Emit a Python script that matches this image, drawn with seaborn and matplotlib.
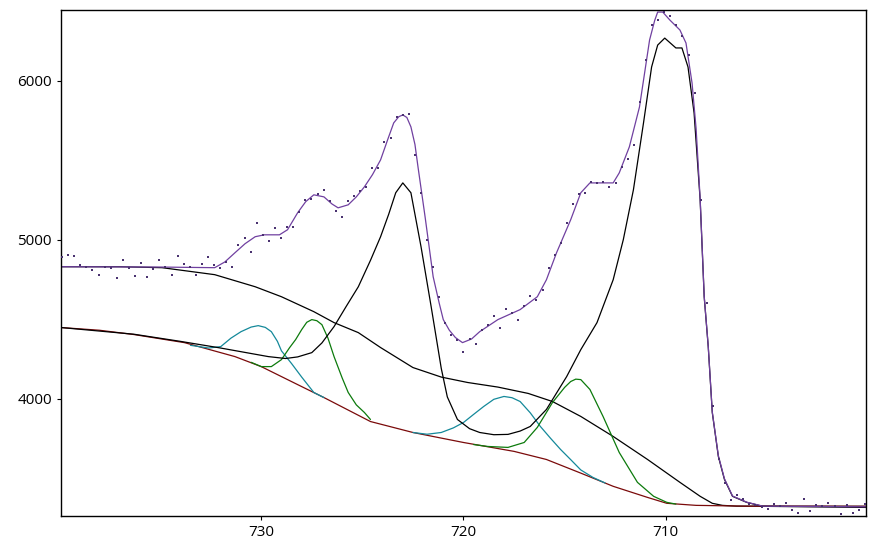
import numpy as np
import pandas as pd
import matplotlib
matplotlib.use("Agg")
import matplotlib.pyplot as plt
import seaborn as sns

# binding energy (eV) of the measured points, one every ~0.3 eV
BE_POINTS = np.linspace(739.85, 700.15, 133)
COUNTS = [
    4893, 4906, 4899, 4843, 4830, 4811, 4780, 4830, 4824, 4761,
    4874, 4824, 4774, 4855, 4767, 4818, 4874, 4830, 4780, 4899,
    4849, 4830, 4780, 4849, 4893, 4843, 4824, 4862, 4830, 4969,
    5013, 4925, 5107, 5031, 4994, 5075, 5013, 5082, 5082, 5176,
    5252, 5258, 5289, 5314, 5245, 5182, 5145, 5245, 5277, 5308,
    5333, 5453, 5453, 5616, 5641, 5774, 5786, 5792, 5535, 5296,
    5000, 4830, 4641, 4478, 4403, 4371, 4296, 4377, 4346, 4434,
    4465, 4522, 4447, 4566, 4541, 4497, 4585, 4648, 4623, 4686,
    4824, 4906, 4981, 5107, 5226, 5289, 5296, 5365, 5358, 5365,
    5333, 5358, 5459, 5509, 5597, 5868, 6132, 6352, 6384, 6434,
    6409, 6352, 6283, 6164, 5925, 5250, 4600, 3950, 3616, 3470,
    3362, 3392, 3365, 3338, 3327, 3316, 3302, 3333, 3320, 3340,
    3296, 3277, 3365, 3289, 3327, 3321, 3340, 3321, 3270, 3327,
    3277, 3296, 3333,
]

# envelope (sum of fit)
ENV_X = [739.9, 735.0, 732.3, 731.8, 731.3, 730.8, 730.3, 729.85, 729.1, 728.7,
         728.2, 727.8, 727.4, 726.9, 726.5, 726.2, 725.7, 725.3, 724.9, 724.5,
         724.1, 723.75, 723.45, 723.2, 723.0, 722.8, 722.6, 722.4, 722.25, 721.9,
         721.5, 721.2, 721.0, 720.7, 720.4, 720.05, 719.6, 719.2, 718.3, 717.2,
         716.35, 715.9, 715.4, 714.7, 714.2, 713.75, 713.1, 712.6, 712.3, 711.8,
         711.3, 710.8, 710.55, 710.4, 710.15, 709.8, 709.3, 709.0, 708.7, 708.5,
         708.3, 708.1, 707.9, 707.7, 707.4, 707.1, 706.7, 706.0, 705.2, 700.1]
ENV_Y = [4830, 4828, 4824, 4860, 4918, 4975, 5019, 5031, 5031, 5063,
         5170, 5240, 5283, 5270, 5225, 5201, 5220, 5270, 5333, 5410,
         5503, 5630, 5736, 5775, 5786, 5770, 5711, 5600, 5459, 5145,
         4767, 4600, 4497, 4430, 4384, 4352, 4375, 4421, 4497, 4560,
         4641, 4748, 4918, 5126, 5296, 5358, 5358, 5358, 5421, 5585,
         5836, 6258, 6380, 6434, 6434, 6384, 6321, 6239, 5987, 5700,
         5260, 4645, 4330, 3915, 3640, 3495, 3386, 3347, 3322, 3318]

# Shirley background
BG_X = [739.9, 738.0, 736.3, 733.8, 731.3, 730.0, 729.0, 728.0, 726.9, 724.6,
        722.5, 720.0, 717.5, 715.9, 714.2, 712.6, 710.9, 709.95, 708.5, 706.0, 700.1]
BG_Y = [4447, 4430, 4403, 4352, 4264, 4201, 4138, 4075, 4006, 3855,
        3786, 3723, 3667, 3616, 3530, 3447, 3377, 3340, 3327, 3322, 3321]

# main 2p3/2 + 2p1/2 component
MAIN_X = [739.9, 736.3, 734.0, 732.1, 729.65, 728.8, 728.2, 727.5, 727.0, 726.4,
          725.8, 725.2, 724.6, 724.1, 723.7, 723.35, 723.0, 722.6, 722.1, 721.6,
          721.1, 720.8, 720.3, 719.7, 719.2, 718.5, 717.8, 717.2, 716.7, 715.9,
          714.9, 714.2, 713.4, 712.6, 712.1, 711.6, 711.1, 710.7, 710.4, 710.05,
          709.5, 709.2, 708.9, 708.6, 708.3, 708.1, 707.9, 707.7, 707.4, 707.1,
          706.7, 706.0, 705.2, 700.1]
MAIN_Y = [4447, 4405, 4360, 4320, 4264, 4252, 4262, 4289, 4350, 4453,
          4580, 4704, 4870, 5019, 5160, 5296, 5358, 5296, 4956, 4579,
          4190, 4010, 3868, 3810, 3786, 3772, 3774, 3795, 3824, 3931,
          4138, 4308, 4478, 4748, 5000, 5314, 5736, 6088, 6226, 6270,
          6208, 6208, 6088, 5799, 5252, 4641, 4327, 3912, 3635, 3491,
          3384, 3346, 3321, 3314]

# broad component
BROAD_X = [739.9, 737.0, 734.9, 732.3, 730.3, 729.0, 727.4, 726.4, 725.2, 724.1,
           722.5, 721.1, 719.8, 718.3, 716.8, 715.6, 714.2, 712.6, 710.9, 709.3,
           708.3, 707.7, 707.2, 706.5, 700.1]
BROAD_Y = [4830, 4830, 4824, 4780, 4704, 4641, 4547, 4478, 4415, 4321,
           4195, 4135, 4101, 4072, 4032, 3981, 3887, 3761, 3616, 3472,
           3384, 3340, 3327, 3322, 3321]

# satellite peaks (cyan)
SAT1_X = [733.5, 732.6, 732.0, 731.5, 731.0, 730.5, 730.15, 729.8, 729.5, 729.2,
          729.0, 728.5, 728.0, 727.4, 726.9]
SAT1_Y = [4335, 4318, 4327, 4380, 4421, 4450, 4459, 4448, 4421, 4360,
          4300, 4220, 4135, 4038, 4006]
SAT2_X = [722.5, 721.8, 721.1, 720.5, 720.0, 719.5, 719.0, 718.5, 718.0, 717.6,
          717.2, 716.7, 716.2, 715.7, 715.2, 714.7, 714.2, 713.6, 713.0]
SAT2_Y = [3786, 3775, 3786, 3815, 3849, 3900, 3950, 3995, 4013, 4005,
          3981, 3910, 3824, 3750, 3679, 3615, 3550, 3503, 3468]

# multiplet peaks (green)
MULT1_X = [730.5, 730.0, 729.5, 729.0, 728.6, 728.3, 728.0, 727.75, 727.5, 727.25,
           727.0, 726.7, 726.4, 726.0, 725.7, 725.3, 724.9, 724.6]
MULT1_Y = [4228, 4201, 4201, 4245, 4320, 4371, 4434, 4480, 4497, 4490,
           4465, 4380, 4264, 4130, 4038, 3960, 3912, 3868]
MULT2_X = [719.5, 718.8, 717.8, 717.0, 716.35, 715.6, 715.0, 714.7, 714.45, 714.2,
           713.75, 713.1, 712.3, 711.4, 710.6, 709.95, 709.5]
MULT2_Y = [3710, 3698, 3692, 3723, 3818, 3975, 4070, 4107, 4122, 4119,
           4057, 3887, 3660, 3472, 3384, 3346, 3335]

sns.set_style("ticks")
plt.rcParams["font.family"] = ["Open Sans", "DejaVu Sans"]

fig = plt.figure(figsize=(8.76, 5.5), dpi=100)
ax = fig.add_axes([61 / 876, 1 - 516 / 550, 805 / 876, 506 / 550])

curves = [
    (BROAD_X, BROAD_Y, "black"),
    (BG_X, BG_Y, "#7a0a0a"),
    (SAT1_X, SAT1_Y, "#14899a"),
    (SAT2_X, SAT2_Y, "#14899a"),
    (MULT1_X, MULT1_Y, "#0c7a0c"),
    (MULT2_X, MULT2_Y, "#0c7a0c"),
    (MAIN_X, MAIN_Y, "black"),
    (ENV_X, ENV_Y, "#7040a0"),
]
for xs, ys, col in curves:
    df = pd.DataFrame({"be": xs, "cps": ys})
    sns.lineplot(data=df, x="be", y="cps", color=col, lw=0.9, sort=False,
                 estimator=None, ax=ax)

pts = pd.DataFrame({"be": BE_POINTS, "cps": COUNTS})
sns.scatterplot(data=pts, x="be", y="cps", color="#4a3270", marker="s", s=4,
                linewidth=0, ax=ax, zorder=5)

ax.set_xlim(739.9, 700.1)
ax.set_ylim(3260, 6447)
ax.set_xticks([730, 720, 710])
ax.set_yticks([4000, 5000, 6000])
ax.set_xlabel("")
ax.set_ylabel("")
ax.tick_params(axis="both", labelsize=11, length=3, width=0.8,
               color="black", labelcolor="black")
for sp in ax.spines.values():
    sp.set_linewidth(1.0)
    sp.set_color("black")

plt.savefig("out.png", dpi=100)
